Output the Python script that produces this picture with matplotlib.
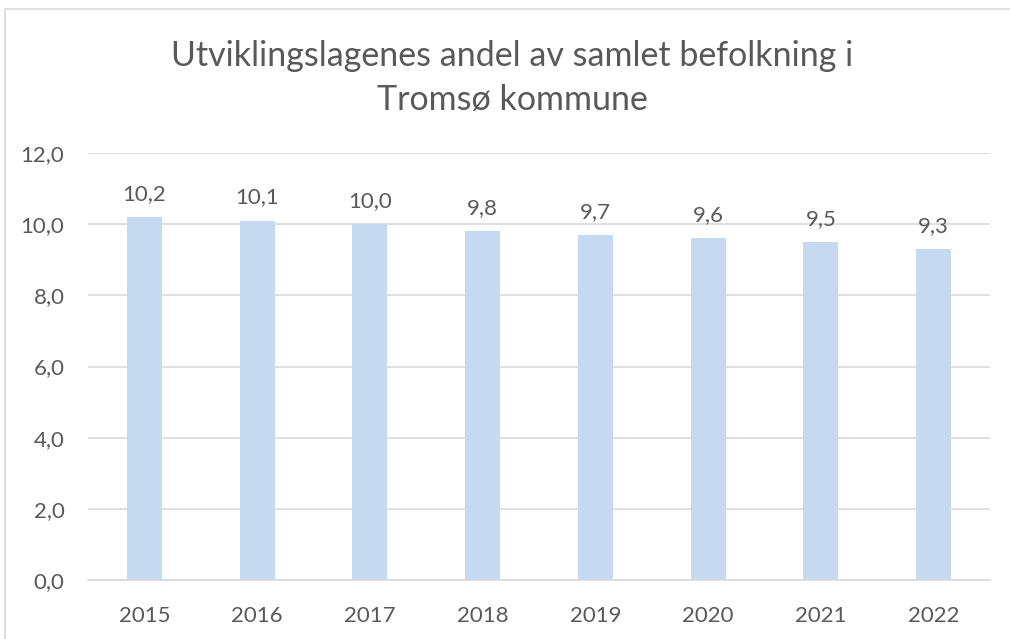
import matplotlib.pyplot as plt
from matplotlib.patches import Rectangle

plt.rcParams['font.family'] = ['Lato', 'DejaVu Sans']

years = ['2015', '2016', '2017', '2018', '2019', '2020', '2021', '2022']
andel = [10.2, 10.1, 10.0, 9.8, 9.7, 9.6, 9.5, 9.3]
yticks = [0, 2, 4, 6, 8, 10, 12]

text_col = '#595959'
grid_col = '#D9D9D9'
bar_col = '#C5D9F1'

W, H = 1010, 639
fig = plt.figure(figsize=(W / 100, H / 100), dpi=100)
ax = fig.add_axes([88 / W, (H - 580) / H, (990 - 88) / W, (580 - 153) / H])

# ramme rundt diagrammet (kun venstre og topp synlig)
fig.patches.append(Rectangle((5 / W, -0.1), 1.2, (H - 9) / H + 0.1,
                             transform=fig.transFigure, fill=False,
                             edgecolor=grid_col, linewidth=1.2))

x = range(len(years))
bars = ax.bar(x, andel, width=0.31, color=bar_col, zorder=2)

for b, v in zip(bars, andel):
    ax.annotate(f'{v:.1f}'.replace('.', ','), (b.get_x() + b.get_width() / 2, v),
                xytext=(0, 9.5), textcoords='offset points',
                ha='center', va='bottom', fontsize=16, color=text_col)

ax.set_xlim(-0.5, len(years) - 0.5)
ax.set_ylim(0, 12)
ax.set_yticks(yticks)
ax.set_yticklabels([f'{t:.1f}'.replace('.', ',') for t in yticks])
ax.set_xticks(list(x))
ax.set_xticklabels(years)
ax.tick_params(length=0, labelsize=16, colors=text_col)
ax.tick_params(axis='y', pad=17)
ax.tick_params(axis='x', pad=19)
ax.yaxis.grid(True, color=grid_col, linewidth=1.2, zorder=0)
ax.set_axisbelow(True)
for s in ['top', 'right', 'left']:
    ax.spines[s].set_visible(False)
ax.spines['bottom'].set_color(grid_col)
ax.spines['bottom'].set_linewidth(1.2)

fig.text(512 / W, (H - 40) / H, 'Utviklingslagenes andel av samlet befolkning i\nTromsø kommune',
         ha='center', va='top', fontsize=24.5, color=text_col, linespacing=1.45)

fig.savefig('out.png', dpi=100)
